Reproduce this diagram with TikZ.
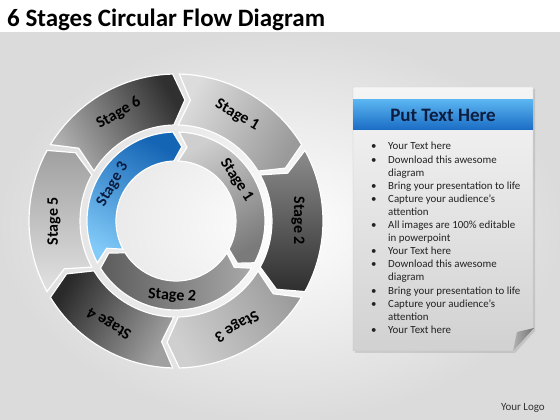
\documentclass[tikz,border=0pt]{standalone}
\usepackage{fontspec}
\setmainfont{Carlito}
\usetikzlibrary{shadows}
\definecolor{oneT}{HTML}{DCDCDC}\definecolor{oneL}{HTML}{9A9A9A}
\definecolor{twoT}{HTML}{8C8C8C}\definecolor{twoL}{HTML}{2E2E2E}
\definecolor{thrT}{HTML}{9C9C9C}\definecolor{thrL}{HTML}{CFCFCF}
\definecolor{fouT}{HTML}{A0A0A0}\definecolor{fouL}{HTML}{2A2A2A}
\definecolor{fivT}{HTML}{E2E2E2}\definecolor{fivL}{HTML}{A0A0A0}
\definecolor{sixT}{HTML}{B0B0B0}\definecolor{sixL}{HTML}{303030}
\definecolor{inaT}{HTML}{CFCFCF}\definecolor{inaL}{HTML}{7A7A7A}
\definecolor{inbT}{HTML}{A8A8A8}\definecolor{inbL}{HTML}{5C5C5C}
\definecolor{incT}{HTML}{82CBF9}\definecolor{incL}{HTML}{1565B5}
\definecolor{hdrTop}{HTML}{5AB4F0}\definecolor{hdrBot}{HTML}{1A6CC4}
\definecolor{navy}{HTML}{0D1D40}
\definecolor{txtgray}{HTML}{222222}
% #1 trailing angle, #2 leading angle, #3 inner r, #4 outer r, #5 gap, #6 tip depth, #7 style
\newcommand{\ringseg}[7]{%
  \path[#7] ({#1-#5}:#4) arc[start angle={#1-#5}, end angle={#2+#5}, radius=#4]
    -- ({#2+#5-#6}:{(#3+#4)/2}) -- ({#2+#5}:#3)
    arc[start angle={#2+#5}, end angle={#1-#5}, radius=#3]
    -- ({#1-#5-#6}:{(#3+#4)/2}) -- cycle;}
\newcommand{\stagefont}{\bfseries\fontsize{16}{18}\selectfont}
\tikzset{
  segstyle/.style 2 args={left color=#1, right color=#2, draw=white, line width=1.2pt},
  stagelbl/.style={font=\stagefont, text=black, inner sep=0pt},
  bullettxt/.style={anchor=base west, font=\fontsize{10.9}{12}\selectfont, text=txtgray, inner sep=0pt},
}
\begin{document}
\begin{tikzpicture}[x=1pt,y=1pt]
\useasboundingbox (0,0) rectangle (560,420);
\fill[white] (0,0) rectangle (560,420);
\shade[inner color=white, outer color=black!14] (0,0) rectangle (560,387);
\node[anchor=base west, font=\bfseries\fontsize{25}{28}\selectfont, inner sep=0pt] (title) at (7,393) {6 Stages Circular Flow Diagram};

\begin{scope}[shift={(176,199)}]
  % outer ring
  \ringseg{90}{30}{96}{147}{1.3}{5.5}{segstyle={oneT}{oneL}, shading angle=60}
  \ringseg{30}{-30}{96}{147}{1.3}{5.5}{segstyle={twoT}{twoL}, shading angle=0}
  \ringseg{-30}{-90}{96}{147}{1.3}{5.5}{segstyle={thrT}{thrL}, shading angle=-60}
  \ringseg{270}{210}{96}{147}{1.3}{5.5}{segstyle={fouT}{fouL}, shading angle=240}
  \ringseg{210}{150}{96}{147}{1.3}{5.5}{segstyle={fivT}{fivL}, shading angle=180}
  \ringseg{150}{90}{96}{147}{1.3}{5.5}{segstyle={sixT}{sixL}, shading angle=120}
  % inner ring
  \ringseg{90}{-30}{60}{89}{2}{6.5}{segstyle={inaT}{inaL}, shading angle=30}
  \ringseg{-30}{-150}{60}{89}{2}{6.5}{segstyle={inbT}{inbL}, shading angle=-90}
  \ringseg{210}{90}{60}{89}{2}{6.5}{segstyle={incT}{incL}, shading angle=150}
  % labels outer
  \node[stagelbl, rotate=-30] (o1) at (60:122) {Stage 1};
  \node[stagelbl, rotate=-90] (o2) at (0:122) {Stage 2};
  \node[stagelbl, rotate=-150] (o3) at (-60:121) {Stage 3};
  \node[stagelbl, rotate=150] (o4) at (-123:122) {Stage 4};
  \node[stagelbl, rotate=90] (o5) at (180:122) {Stage 5};
  \node[stagelbl, rotate=30] (o6) at (118:122) {Stage 6};
  % labels inner
  \node[stagelbl, rotate=-57] (i1) at (34:73) {Stage 1};
  \node[stagelbl, rotate=-4] (i2) at (-93:75) {Stage 2};
  \node[stagelbl, rotate=60, text=navy] (i3) at (150:73) {Stage 3};
\end{scope}

% text panel
\shade[top color=black!4, bottom color=black!18, draw=black!22, line width=0.4pt,
  drop shadow={shadow xshift=2pt, shadow yshift=-2pt, opacity=0.25}]
  (353,333) -- (533,333) -- (533,91) -- (513,69) -- (353,69) -- cycle;
\shade[left color=black!30, right color=black!55] (517,88) -- (534,92) -- (513,69) -- cycle;
\shade[top color=hdrTop, bottom color=hdrBot] (353,320) rectangle (533,290);
\node[font=\bfseries\fontsize{19}{22}\selectfont, text=navy] (hdr) at (443,305) {Put Text Here};

\foreach \bul/\txt [count=\i] in {
  1/Your Text here, 1/Download this awesome, 0/diagram,
  1/Bring your presentation to life, 1/Capture your audience’s, 0/attention,
  1/All images are 100\% editable, 0/in powerpoint, 1/Your Text here,
  1/Download this awesome, 0/diagram, 1/Bring your presentation to life,
  1/Capture your audience’s, 0/attention, 1/Your Text here}{
  \node[bullettxt] (t\i) at (388,{270-13.1*(\i-1)}) {\txt};
  \ifnum\bul=1
    \node[bullettxt] (d\i) at (371,{270-13.1*(\i-1)}) {•};
  \fi
}

\node[anchor=base east, font=\fontsize{11}{13}\selectfont, text=black!80, inner sep=0pt] (logo) at (545,9) {Your Logo};
\end{tikzpicture}
\end{document}
